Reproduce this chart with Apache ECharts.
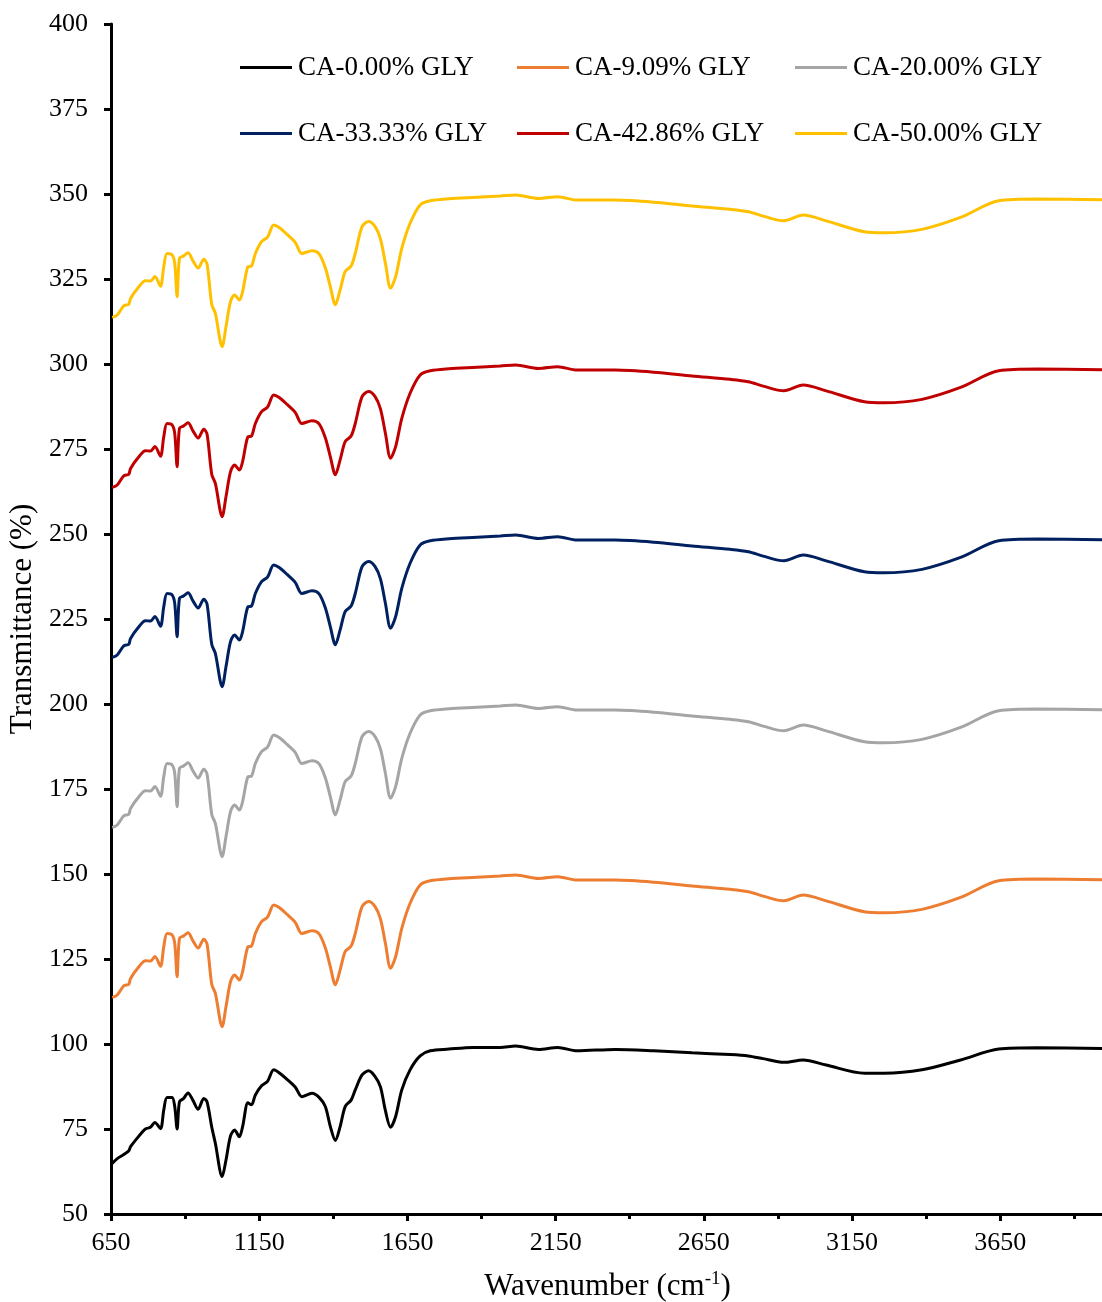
<!DOCTYPE html>
<html>
<head>
<meta charset="utf-8">
<script src="https://cdn.jsdelivr.net/npm/echarts@6/dist/echarts.min.js"></script>
<style>
html,body{margin:0;padding:0;background:#fff;}
#chart{width:1102px;height:1302px;}
</style>
</head>
<body>
<div id="chart"></div>
<script>
// Wavenumber (cm-1) grid shared by all series
const wavenumbers = [654, 671, 693, 710, 716, 744, 766, 783, 798, 817, 828, 839, 856, 865, 873, 881, 895, 910, 926, 944, 963, 974, 990, 1002, 1025, 1038, 1053, 1067, 1083, 1094, 1112, 1124, 1137, 1158, 1178, 1199, 1216, 1244, 1272, 1294, 1328, 1352, 1373, 1390, 1407, 1423, 1440, 1460, 1474, 1497, 1519, 1541, 1559, 1576, 1593, 1610, 1631, 1659, 1693, 1727, 1790, 1870, 1963, 2015, 2092, 2157, 2222, 2351, 2481, 2610, 2739, 2800, 2850, 2920, 2985, 3063, 3192, 3257, 3386, 3516, 3645, 3774, 4000];

const ca000 = [64.9, 66.3, 67.5, 68.6, 69.8, 72.9, 75.0, 75.5, 76.9, 75.1, 80.6, 84.3, 84.3, 81.6, 75.0, 83.0, 84.0, 85.6, 83.5, 80.8, 84.0, 83.0, 75.5, 70.8, 61.0, 65.9, 72.9, 74.7, 72.7, 75.7, 82.7, 82.1, 85.0, 87.7, 89.0, 92.4, 91.6, 89.6, 87.3, 84.5, 85.5, 84.3, 81.6, 75.7, 71.6, 75.7, 81.6, 83.5, 86.5, 90.9, 92.1, 90.4, 87.4, 80.3, 75.5, 78.6, 86.5, 92.4, 96.5, 98.0, 98.5, 99.0, 99.0, 99.4, 98.4, 99.0, 98.0, 98.4, 98.0, 97.4, 96.9, 96.5, 95.7, 94.6, 95.3, 93.8, 91.4, 91.4, 92.4, 95.3, 98.5, 98.9, 98.7];

const ca909 = [113.7, 114.4, 117.1, 117.6, 119.3, 122.7, 124.5, 124.4, 125.7, 122.9, 128.6, 132.5, 132.1, 129.6, 119.8, 131.1, 131.8, 132.7, 130.4, 128.2, 130.8, 129.4, 117.5, 114.9, 105.1, 111.0, 118.3, 120.3, 118.8, 121.3, 128.6, 128.8, 132.5, 136.0, 137.3, 140.9, 140.2, 138.1, 135.7, 132.5, 133.3, 132.4, 128.3, 122.7, 117.4, 121.8, 127.2, 128.8, 132.5, 140.4, 141.9, 140.4, 136.8, 129.5, 122.3, 125.6, 134.0, 141.4, 146.8, 148.0, 148.6, 149.0, 149.4, 149.7, 148.7, 149.2, 148.2, 148.2, 147.6, 146.5, 145.5, 144.8, 143.5, 142.1, 143.8, 142.1, 138.9, 138.6, 139.6, 143.1, 148.0, 148.5, 148.3];

const ca2000 = [163.7, 164.4, 167.1, 167.6, 169.3, 172.7, 174.5, 174.4, 175.7, 172.9, 178.6, 182.5, 182.1, 179.6, 169.8, 181.1, 181.8, 182.7, 180.4, 178.2, 180.8, 179.4, 167.5, 164.9, 155.1, 161.0, 168.3, 170.3, 168.8, 171.3, 178.6, 178.8, 182.5, 186.0, 187.3, 190.9, 190.2, 188.1, 185.7, 182.5, 183.3, 182.4, 178.3, 172.7, 167.4, 171.8, 177.2, 178.8, 182.5, 190.4, 191.9, 190.4, 186.8, 179.5, 172.3, 175.6, 184.0, 191.4, 196.8, 198.0, 198.6, 199.0, 199.4, 199.7, 198.7, 199.2, 198.2, 198.2, 197.6, 196.5, 195.5, 194.8, 193.5, 192.1, 193.8, 192.1, 188.9, 188.6, 189.6, 193.1, 198.0, 198.5, 198.3];

const ca3333 = [213.7, 214.4, 217.1, 217.6, 219.3, 222.7, 224.5, 224.4, 225.7, 222.9, 228.6, 232.5, 232.1, 229.6, 219.8, 231.1, 231.8, 232.7, 230.4, 228.2, 230.8, 229.4, 217.5, 214.9, 205.1, 211.0, 218.3, 220.3, 218.8, 221.3, 228.6, 228.8, 232.5, 236.0, 237.3, 240.9, 240.2, 238.1, 235.7, 232.5, 233.3, 232.4, 228.3, 222.7, 217.4, 221.8, 227.2, 228.8, 232.5, 240.4, 241.9, 240.4, 236.8, 229.5, 222.3, 225.6, 234.0, 241.4, 246.8, 248.0, 248.6, 249.0, 249.4, 249.7, 248.7, 249.2, 248.2, 248.2, 247.6, 246.5, 245.5, 244.8, 243.5, 242.1, 243.8, 242.1, 238.9, 238.6, 239.6, 243.1, 248.0, 248.5, 248.3];

const ca4286 = [263.7, 264.4, 267.1, 267.6, 269.3, 272.7, 274.5, 274.4, 275.7, 272.9, 278.6, 282.5, 282.1, 279.6, 269.8, 281.1, 281.8, 282.7, 280.4, 278.2, 280.8, 279.4, 267.5, 264.9, 255.1, 261.0, 268.3, 270.3, 268.8, 271.3, 278.6, 278.8, 282.5, 286.0, 287.3, 290.9, 290.2, 288.1, 285.7, 282.5, 283.3, 282.4, 278.3, 272.7, 267.4, 271.8, 277.2, 278.8, 282.5, 290.4, 291.9, 290.4, 286.8, 279.5, 272.3, 275.6, 284.0, 291.4, 296.8, 298.0, 298.6, 299.0, 299.4, 299.7, 298.7, 299.2, 298.2, 298.2, 297.6, 296.5, 295.5, 294.8, 293.5, 292.1, 293.8, 292.1, 288.9, 288.6, 289.6, 293.1, 298.0, 298.5, 298.3];

const ca5000 = [313.7, 314.4, 317.1, 317.6, 319.3, 322.7, 324.5, 324.4, 325.7, 322.9, 328.6, 332.5, 332.1, 329.6, 319.8, 331.1, 331.8, 332.7, 330.4, 328.2, 330.8, 329.4, 317.5, 314.9, 305.1, 311.0, 318.3, 320.3, 318.8, 321.3, 328.6, 328.8, 332.5, 336.0, 337.3, 340.9, 340.2, 338.1, 335.7, 332.5, 333.3, 332.4, 328.3, 322.7, 317.4, 321.8, 327.2, 328.8, 332.5, 340.4, 341.9, 340.4, 336.8, 329.5, 322.3, 325.6, 334.0, 341.4, 346.8, 348.0, 348.6, 349.0, 349.4, 349.7, 348.7, 349.2, 348.2, 348.2, 347.6, 346.5, 345.5, 344.8, 343.5, 342.1, 343.8, 342.1, 338.9, 338.6, 339.6, 343.1, 348.0, 348.5, 348.3];

const seriesNames = ['CA-0.00% GLY', 'CA-9.09% GLY', 'CA-20.00% GLY', 'CA-33.33% GLY', 'CA-42.86% GLY', 'CA-50.00% GLY'];
const seriesValues = [ca000, ca909, ca2000, ca3333, ca4286, ca5000];
const seriesColors = ['#000000', '#ED7D31', '#A5A5A5', '#002060', '#C00000', '#FFC000'];

const FONT = 'Liberation Serif';
const chart = echarts.init(document.getElementById('chart'), null, {renderer: 'canvas'});

const legendPos = [[240, 54], [517, 54], [795, 54], [240, 120], [517, 120], [795, 120]];
const legends = seriesNames.map((n, i) => ({
  data: [n],
  left: legendPos[i][0],
  top: legendPos[i][1],
  padding: 0,
  icon: 'rect',
  itemWidth: 52,
  itemHeight: 3,
  itemGap: 0,
  textStyle: {fontFamily: FONT, fontSize: 27, color: '#000', padding: [0, 0, 0, 1]}
}));

const option = {
  backgroundColor: '#ffffff',
  animation: false,
  legend: legends,
  grid: {left: 111, right: -2, top: 24, bottom: 88, containLabel: false, outerBoundsMode: 'none'},
  xAxis: {
    type: 'value',
    min: 650, max: 4000, interval: 500,
    name: '{a|Wavenumber (cm}{s|-1}{a|)}',
    nameLocation: 'middle',
    nameGap: 56,
    nameTextStyle: {
      rich: {
        a: {fontFamily: FONT, fontSize: 31, color: '#000', verticalAlign: 'bottom', lineHeight: 32},
        s: {fontFamily: FONT, fontSize: 19, color: '#000', verticalAlign: 'top', lineHeight: 32, padding: [0, 0, 15, 0]}
      }
    },
    axisLine: {lineStyle: {color: '#000', width: 3}},
    axisTick: {show: true, length: 7, lineStyle: {color: '#000', width: 3}},
    minorTick: {show: true, splitNumber: 2, length: 5, lineStyle: {color: '#000', width: 3}},
    axisLabel: {fontFamily: FONT, fontSize: 26, color: '#000', margin: 16, showMaxLabel: false,
      formatter: v => String(v)},
    splitLine: {show: false}
  },
  yAxis: {
    type: 'value',
    min: 50, max: 400, interval: 25,
    name: 'Transmittance (%)',
    nameLocation: 'middle',
    nameGap: 72,
    nameTextStyle: {fontFamily: FONT, fontSize: 31, color: '#000'},
    axisLine: {show: true, lineStyle: {color: '#000', width: 3}},
    axisTick: {show: true, length: 7, lineStyle: {color: '#000', width: 3}},
    axisLabel: {fontFamily: FONT, fontSize: 26, color: '#000', margin: 23, formatter: v => String(v)},
    splitLine: {show: false}
  },
  series: seriesNames.map((n, i) => ({
    name: n,
    type: 'line',
    data: wavenumbers.map((w, k) => [w, seriesValues[i][k]]),
    showSymbol: false,
    smooth: 0.3,
    lineStyle: {color: seriesColors[i], width: 3},
    itemStyle: {color: seriesColors[i]},
    z: 10 - i
  }))
};
chart.setOption(option);
</script>
</body>
</html>
